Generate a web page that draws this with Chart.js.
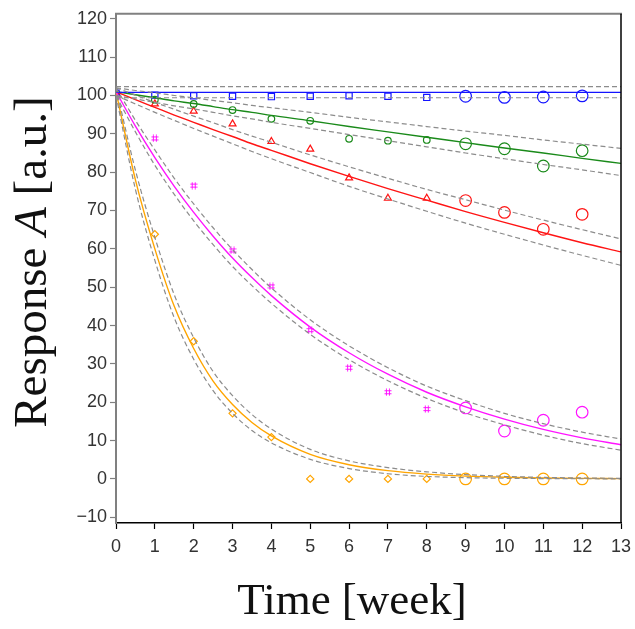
<!DOCTYPE html>
<html><head><meta charset="utf-8">
<script src="https://cdn.jsdelivr.net/npm/chart.js@4.4.1/dist/chart.umd.min.js"></script>
<style>html,body{margin:0;padding:0;background:#fff;overflow:hidden}</style>
</head><body>
<canvas id="c" width="635" height="629" style="display:block;width:635px;height:629px"></canvas>
<script>
// ---- observed data (weeks 0..12) ----
const weeks = [0,1,2,3,4,5,6,7,8,9,10,11,12];
const blueObs    = [100.6,100.1,99.9,99.8,99.7,99.8,99.9,99.8,99.5,99.8,99.5,99.6,99.9];
const greenObs   = [100.6,98.9,97.8,96.2,93.9,93.4,88.7,88.2,88.4,87.4,86.1,81.6,85.6];
const redObs     = [100.6,97.8,95.9,92.6,88.0,86.0,78.5,73.2,73.2,72.6,69.5,65.1,69.0];
const magentaObs = [100.6,88.8,76.5,59.6,50.2,38.8,29.0,22.6,18.2,18.5,12.5,15.3,17.4];
const orangeObs  = [100.6,63.8,35.9,17.1,10.9,0.0,0.0,0.0,0.0,0.0,0.0,0.0,0.0];

// ---- fitted curves and confidence bands ----
const fitTime      = [0,0.5,1,1.5,2,2.5,3,3.5,4,5,6,7,8,9,10,11,12,13];
const blueFit      = [100.8,100.8,100.8,100.8,100.8,100.8,100.8,100.8,100.8,100.8,100.8,100.8,100.8,100.8,100.8,100.8,100.8,100.8];
const blueUpper    = [102.3,102.3,102.3,102.3,102.3,102.3,102.3,102.3,102.3,102.3,102.3,102.3,102.3,102.3,102.3,102.3,102.3,102.3];
const blueLower    = [99.4,99.4,99.4,99.4,99.4,99.4,99.4,99.4,99.4,99.4,99.4,99.4,99.4,99.4,99.4,99.4,99.4,99.4];
const greenFit     = [101,100.2,99.4,98.6,97.9,97.1,96.3,95.6,94.8,93.4,91.9,90.5,89.1,87.7,86.3,85.0,83.6,82.3];
const greenUpper   = [102,101.3,100.7,100.0,99.4,98.7,98.1,97.4,96.8,95.6,94.3,93.1,91.9,90.7,89.6,88.4,87.3,86.2];
const greenLower   = [100,99.1,98.2,97.3,96.5,95.6,94.7,93.9,93.0,91.4,89.8,88.2,86.6,85.0,83.5,82.0,80.6,79.1];
const redFit       = [101,98.9,96.9,94.9,93.0,91.1,89.3,87.4,85.7,82.2,78.9,75.7,72.7,69.7,66.9,64.2,61.6,59.2];
const redUpper     = [102,100.1,98.2,96.4,94.6,92.9,91.1,89.4,87.8,84.5,81.4,78.4,75.5,72.8,70.1,67.5,65.0,62.6];
const redLower     = [100,97.8,95.6,93.5,91.4,89.4,87.4,85.4,83.5,79.9,76.3,73.0,69.8,66.7,63.8,61.0,58.3,55.7];
const magentaFit   = [101,92.0,83.8,76.3,69.5,63.3,57.6,52.5,47.8,39.6,32.9,27.3,22.6,18.8,15.6,12.9,10.7,8.9];
const magentaUpper = [102,93.5,85.8,78.4,71.7,65.5,59.8,54.6,49.8,41.5,34.7,29.0,24.2,20.4,17.1,14.4,12.2,10.4];
const magentaLower = [100,90.5,81.8,74.2,67.3,61.1,55.4,50.4,45.8,37.7,31.1,25.6,21.0,17.2,14.1,11.4,9.2,7.5];
const orangeFit    = [101,78,60,45,34,25.5,19.4,14.7,11.2,6.4,3.7,2.15,1.25,0.72,0.42,0.24,0.14,0.08];
const orangeUpper  = [102,80.5,63,48,36.8,28,21.7,16.8,13.0,7.7,4.7,2.95,1.85,1.12,0.67,0.39,0.24,0.13];
const orangeLower  = [100,75.5,57,42,31.2,23,17.1,12.6,9.4,5.1,2.7,1.35,0.65,0.32,0.17,0.09,0.04,0.03];

// ---- axes ----
const xTicks = [0,1,2,3,4,5,6,7,8,9,10,11,12,13];
const yTicks = [-10,0,10,20,30,40,50,60,70,80,90,100,110,120];
const xTitle = 'Time [week]';
const yTitleParts = [['Response ', false], ['A', true], [' [a.u.]', false]];

const COLORS = {blue:'#1414ff', green:'#1a8a1a', red:'#ff1414', magenta:'#ff14ff', orange:'#ffa500', band:'#8c8c8c'};

// custom '#' marker
function hashMarker(color){
  const c = document.createElement('canvas'); c.width = 8; c.height = 8;
  const g = c.getContext('2d'); g.strokeStyle = color; g.lineWidth = 1;
  g.beginPath();
  g.moveTo(2.5,0.5); g.lineTo(2.5,7.5); g.moveTo(5.5,0.5); g.lineTo(5.5,7.5);
  g.moveTo(0.5,2.5); g.lineTo(7.5,2.5); g.moveTo(0.5,5.5); g.lineTo(7.5,5.5);
  g.stroke();
  return c;
}

const pts = (xs, ys) => xs.map((x, i) => ({x, y: ys[i]}));

function fitLine(ys, color){
  return {data: pts(fitTime, ys), showLine: true, borderColor: color, borderWidth: 1.4,
    pointRadius: 0, pointHoverRadius: 0, cubicInterpolationMode: 'monotone', fill: false};
}
function band(ys){
  return {data: pts(fitTime, ys), showLine: true, borderColor: COLORS.band, borderWidth: 1.2,
    borderDash: [5,3], pointRadius: 0, pointHoverRadius: 0, cubicInterpolationMode: 'monotone', fill: false};
}
function obs(ys, color, style, r){
  return {data: pts(weeks, ys), showLine: false, borderColor: color, backgroundColor: 'rgba(0,0,0,0)',
    pointBorderWidth: 1.2,
    pointStyle: ctx => ctx.dataIndex >= 9 ? 'circle' : style,
    pointRadius: ctx => ctx.dataIndex >= 9 ? 5.8 : r};
}

const datasets = [
  band(blueUpper), band(blueLower), band(greenUpper), band(greenLower),
  band(redUpper), band(redLower), band(magentaUpper), band(magentaLower),
  band(orangeUpper), band(orangeLower),
  fitLine(blueFit, COLORS.blue), fitLine(greenFit, COLORS.green), fitLine(redFit, COLORS.red),
  fitLine(magentaFit, COLORS.magenta), fitLine(orangeFit, COLORS.orange),
  obs(blueObs, COLORS.blue, 'rect', 4.4),
  obs(greenObs, COLORS.green, 'circle', 3.3),
  obs(redObs, COLORS.red, 'triangle', 4.0),
  obs(magentaObs, COLORS.magenta, hashMarker(COLORS.magenta), 3.5),
  obs(orangeObs, COLORS.orange, 'rectRot', 3.6)
];

const frame = {
  id: 'frame',
  afterDatasetsDraw(chart){
    const {ctx, chartArea: a} = chart;
    ctx.save();
    ctx.lineWidth = 2; ctx.strokeStyle = '#808080';
    ctx.beginPath(); ctx.moveTo(a.left - 1, a.top); ctx.lineTo(a.right + 1, a.top); ctx.stroke();
    ctx.lineWidth = 1.5; ctx.strokeStyle = '#000';
    ctx.beginPath(); ctx.moveTo(a.right, a.top); ctx.lineTo(a.right, a.bottom); ctx.stroke();
    ctx.restore();
  },
  afterDraw(chart){
    const {ctx} = chart;
    ctx.save();
    ctx.fillStyle = '#111';
    ctx.font = '45px "Liberation Serif", "Times New Roman", serif';
    ctx.textAlign = 'center'; ctx.textBaseline = 'alphabetic';
    ctx.fillText(xTitle, 352, 614);
    // y title with italic A
    const fonts = it => (it ? 'italic ' : '') + '47px "Liberation Serif", "Times New Roman", serif';
    let total = 0;
    const widths = yTitleParts.map(([t, it]) => { ctx.font = fonts(it); const w = ctx.measureText(t).width; total += w; return w; });
    ctx.translate(46, 262);
    ctx.rotate(-Math.PI / 2);
    ctx.textAlign = 'left';
    let x = -total / 2;
    yTitleParts.forEach(([t, it], i) => { ctx.font = fonts(it); ctx.fillText(t, x, 0); x += widths[i]; });
    ctx.restore();
  }
};

const tickFont = {family: '"Liberation Sans", Arial, sans-serif', size: 18};
const fmt = v => v < 0 ? '\u2212' + Math.abs(v) : String(v);

new Chart(document.getElementById('c'), {
  type: 'scatter',
  data: {datasets},
  plugins: [frame],
  options: {
    responsive: false, animation: false, devicePixelRatio: 1,
    layout: {padding: {top: 13, right: 14, left: 0, bottom: 0}},
    plugins: {legend: {display: false}, tooltip: {enabled: false}},
    scales: {
      x: {
        type: 'linear', min: 0, max: 13,
        afterBuildTicks: s => { s.ticks = xTicks.map(v => ({value: v})); },
        afterFit: s => { s.height = 106; s.paddingRight = 0; },
        grid: {drawOnChartArea: false, drawTicks: true, tickLength: 6, tickColor: '#000', tickWidth: 1.2},
        border: {color: '#000', width: 1.5},
        ticks: {font: tickFont, color: '#333', padding: 7, maxRotation: 0, autoSkip: false, callback: fmt}
      },
      y: {
        type: 'linear', min: -11.5, max: 121.3,
        afterBuildTicks: s => { s.ticks = yTicks.map(v => ({value: v})); },
        afterFit: s => { s.width = 116; },
        grid: {drawOnChartArea: false, drawTicks: true, tickLength: 6, tickColor: '#808080', tickWidth: 1.2},
        border: {color: '#808080', width: 2},
        ticks: {font: tickFont, color: '#333', padding: 3, autoSkip: false, callback: fmt}
      }
    }
  }
});
</script>
</body></html>
